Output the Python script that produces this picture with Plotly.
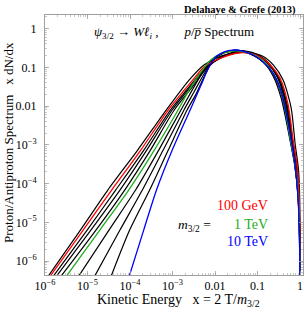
import plotly.graph_objects as go

# ---- data (x = 2T/m, y = x dN/dx) ----
bk1_x = [7.1e-7, 6.8e-6, 3.0e-5, 1.5e-4, 7.1e-4, 2.45e-3, 5.5e-3, 0.0138, 0.055, 0.13, 0.234, 0.40, 0.62, 0.764, 0.923, 0.984, 0.997]
bk1_y = [1.8e-7, 6.3e-6, 6.8e-5, 7.2e-4, 7.9e-3, 0.047, 0.115, 0.195, 0.247, 0.195, 0.115, 0.047, 8.9e-3, 1.1e-3, 2.2e-4, 3.7e-5, 1e-7]

red_x = [7.8e-7, 7.9e-6, 3.7e-5, 1.78e-4, 7.9e-4, 2.75e-3, 5.5e-3, 0.0138, 0.034, 0.058, 0.117, 0.20, 0.34, 0.525, 0.687, 0.85, 0.948, 0.99, 0.998]
red_y = [1.8e-7, 6.3e-6, 6.8e-5, 7.2e-4, 7.9e-3, 0.042, 0.102, 0.174, 0.234, 0.234, 0.184, 0.115, 0.052, 0.0107, 1.32e-3, 3.0e-4, 5.0e-5, 6.3e-6, 1e-7]

bk2_x = [9.1e-7, 9.8e-6, 4.6e-5, 2.1e-4, 8.9e-4, 2.9e-3, 5.8e-3, 0.0138, 0.032, 0.055, 0.111, 0.19, 0.32, 0.50, 0.67, 0.83, 0.94, 0.985, 0.997]
bk2_y = [1.8e-7, 6.3e-6, 6.8e-5, 7.2e-4, 7.9e-3, 0.039, 0.096, 0.174, 0.234, 0.247, 0.195, 0.121, 0.052, 0.0107, 1.32e-3, 3.0e-4, 5e-5, 6.3e-6, 1e-7]

bk3_x = [1.07e-6, 1.2e-5, 5.8e-5, 2.45e-4, 9.8e-4, 3.0e-3, 6.1e-3, 0.0138, 0.030, 0.052, 0.105, 0.18, 0.31, 0.48, 0.65, 0.81, 0.93, 0.98, 0.997]
bk3_y = [1.8e-7, 6.3e-6, 6.8e-5, 7.2e-4, 7.9e-3, 0.037, 0.096, 0.184, 0.247, 0.263, 0.208, 0.129, 0.052, 0.0107, 1.32e-3, 3.0e-4, 5e-5, 6.3e-6, 1e-7]

bk4_x = [1.35e-6, 1.58e-5, 7.5e-5, 3.0e-4, 1.1e-3, 3.2e-3, 6.1e-3, 0.0129, 0.0275, 0.047, 0.094, 0.16, 0.29, 0.47, 0.63, 0.80, 0.92, 0.98, 0.997]
bk4_y = [1.8e-7, 6.3e-6, 6.8e-5, 7.2e-4, 7.9e-3, 0.035, 0.090, 0.174, 0.247, 0.263, 0.208, 0.136, 0.056, 0.0107, 1.32e-3, 3.0e-4, 5e-5, 6.3e-6, 1e-7]

green_x = [1.86e-6, 1.95e-5, 9.3e-5, 3.7e-4, 1.35e-3, 2.45e-3, 4.7e-3, 7.9e-3, 0.0151, 0.026, 0.0445, 0.085, 0.145, 0.246, 0.38, 0.585, 0.764, 0.91, 0.973, 0.997]
green_y = [1.8e-7, 6.3e-6, 6.8e-5, 7.2e-4, 7.9e-3, 0.0257, 0.076, 0.155, 0.234, 0.263, 0.255, 0.208, 0.136, 0.063, 0.019, 1.49e-3, 3.0e-4, 5e-5, 4.6e-6, 1e-7]

bk6_x = [3.8e-6, 3.2e-5, 1.35e-4, 4.7e-4, 1.58e-3, 2.9e-3, 5.2e-3, 8.9e-3, 0.0161, 0.026, 0.0445, 0.085, 0.145, 0.246, 0.38, 0.578, 0.757, 0.90, 0.968, 0.997]
bk6_y = [1.8e-7, 6.3e-6, 6.8e-5, 7.2e-4, 7.9e-3, 0.0257, 0.076, 0.163, 0.234, 0.263, 0.255, 0.20, 0.133, 0.059, 0.017, 1.49e-3, 3.0e-4, 5e-5, 4.6e-6, 1e-7]

bk7_x = [9.8e-6, 5.8e-5, 1.95e-4, 6.0e-4, 1.86e-3, 3.2e-3, 5.5e-3, 9.3e-3, 0.0161, 0.026, 0.0445, 0.082, 0.141, 0.234, 0.36, 0.57, 0.75, 0.898, 0.968, 0.997]
bk7_y = [1.8e-7, 6.3e-6, 6.8e-5, 7.2e-4, 7.9e-3, 0.023, 0.067, 0.163, 0.24, 0.27, 0.263, 0.20, 0.133, 0.059, 0.016, 1.49e-3, 3.0e-4, 5e-5, 4.6e-6, 1e-7]

bk8_x = [2.7e-5, 9.8e-5, 2.9e-4, 7.9e-4, 2.2e-3, 3.55e-3, 5.8e-3, 9.5e-3, 0.0161, 0.026, 0.0445, 0.080, 0.137, 0.227, 0.35, 0.46, 0.62, 0.764, 0.898, 0.973, 0.997]
bk8_y = [1.8e-7, 6.3e-6, 6.8e-5, 7.2e-4, 7.9e-3, 0.020, 0.063, 0.163, 0.24, 0.275, 0.263, 0.205, 0.135, 0.071, 0.0275, 8.9e-3, 1.32e-3, 3.0e-4, 4.4e-5, 4.2e-6, 1e-7]

blue_x = [7.6e-5, 2.1e-4, 4.2e-4, 9.8e-4, 2.6e-3, 4.7e-3, 7.2e-3, 0.011, 0.017, 0.026, 0.0445, 0.080, 0.137, 0.223, 0.34, 0.447, 0.62, 0.764, 0.898, 0.973, 0.997]
blue_y = [1.8e-7, 6.3e-6, 6.8e-5, 7.2e-4, 7.9e-3, 0.0348, 0.102, 0.195, 0.255, 0.279, 0.263, 0.208, 0.136, 0.075, 0.029, 8.9e-3, 1.32e-3, 3.0e-4, 4.4e-5, 4.2e-6, 1e-7]

x_tickvals = [1e-6, 1e-5, 1e-4, 1e-3, 0.01, 0.1, 1]
x_ticktext = ["10<sup>−6</sup>", "10<sup>−5</sup>", "10<sup>−4</sup>", "10<sup>−3</sup>", "0.01", "0.1", "1"]
y_tickvals = [1e-6, 1e-5, 1e-4, 1e-3, 0.01, 0.1, 1]
y_ticktext = ["10<sup>−6</sup>", "10<sup>−5</sup>", "10<sup>−4</sup>", "10<sup>−3</sup>", "0.01", "0.1", "1"]

mass_labels = ["100 GeV", "1 TeV", "10 TeV"]

RED, GREEN, BLUE, BLACK = "#ff0000", "#1fae1f", "#0000ff", "#000000"
SERIF = "Liberation Serif, Times New Roman, serif"

L, R, T, B = 45, 303, 15, 275
W, H = 307, 313

fig = go.Figure()
black_curves = [(bk1_x, bk1_y), (bk2_x, bk2_y), (bk3_x, bk3_y), (bk4_x, bk4_y),
                (bk6_x, bk6_y), (bk7_x, bk7_y), (bk8_x, bk8_y)]
for xs, ys in black_curves:
    fig.add_trace(go.Scatter(x=xs, y=ys, mode="lines",
                             line=dict(color=BLACK, width=1.2, shape="spline", smoothing=0.7),
                             hoverinfo="skip", showlegend=False))
for xs, ys, c in [(red_x, red_y, RED), (green_x, green_y, GREEN), (blue_x, blue_y, BLUE)]:
    fig.add_trace(go.Scatter(x=xs, y=ys, mode="lines",
                             line=dict(color=c, width=1.3, shape="spline", smoothing=0.7),
                             hoverinfo="skip", showlegend=False))

axis_common = dict(type="log", showgrid=False, zeroline=False, showline=True,
                   linecolor="#a0a0a0", linewidth=1, mirror="allticks", automargin=False,
                   ticks="inside", ticklen=4, tickcolor="#a0a0a0", tickwidth=0.8,
                   tickfont=dict(family=SERIF, size=12, color="#000"),
                   minor=dict(ticks="inside", ticklen=2, dtick="D1", tickcolor="#a0a0a0", tickwidth=0.6, showgrid=False))

fig.update_xaxes(range=[-6.0, 0.07], tickvals=x_tickvals, ticktext=x_ticktext, **axis_common)
fig.update_yaxes(range=[-6.36, 0.35], tickvals=y_tickvals, ticktext=y_ticktext,
                 ticklabelstandoff=5, **axis_common)

def px2paper(X, Y):
    return (X - L) / float(R - L), (B - Y) / float(B - T)

ann = []
x0, y0 = px2paper(298, 9.5)
ann.append(dict(x=x0, y=y0, xref="paper", yref="paper", xanchor="right", yanchor="middle",
                text="<b>Delahaye &amp; Grefe (2013)</b>", showarrow=False,
                font=dict(family=SERIF, size=10.5, color="#000")))
x0, y0 = px2paper(92, 33)
ann.append(dict(x=x0, y=y0, xref="paper", yref="paper", xanchor="left", yanchor="middle",
                text="<i>ψ</i><sub>3/2</sub> → <i>Wℓ</i><sub><i>i</i></sub> ,\u00a0\u00a0\u00a0\u00a0\u00a0\u00a0\u00a0\u00a0<i>p</i>/<i>p\u0305</i> Spectrum",
                showarrow=False, font=dict(family=SERIF, size=13, color="#000")))
x0, y0 = px2paper(176, 225)
ann.append(dict(x=x0, y=y0, xref="paper", yref="paper", xanchor="left", yanchor="middle",
                text="<i>m</i><sub>3/2</sub> =", showarrow=False,
                font=dict(family=SERIF, size=13.5, color="#000")))
for lab, Y, c in zip(mass_labels, [205, 224, 241], [RED, GREEN, BLUE]):
    x0, y0 = px2paper(270, Y)
    ann.append(dict(x=x0, y=y0, xref="paper", yref="paper", xanchor="right", yanchor="middle",
                    text=lab, showarrow=False, font=dict(family=SERIF, size=14, color=c)))
x0, y0 = px2paper(178, 300)
ann.append(dict(x=x0, y=y0, xref="paper", yref="paper", xanchor="center", yanchor="middle",
                text="Kinetic Energy\u00a0\u00a0\u00a0x = 2 T/<i>m</i><sub>3/2</sub>", showarrow=False,
                font=dict(family=SERIF, size=14, color="#000")))
x0, y0 = px2paper(8, 143)
ann.append(dict(x=x0, y=y0, xref="paper", yref="paper", xanchor="center", yanchor="middle",
                text="Proton/Antiproton Spectrum\u00a0\u00a0\u00a0x dN/dx", textangle=-90, showarrow=False,
                font=dict(family=SERIF, size=13, color="#000")))

fig.update_layout(width=W, height=H, margin=dict(l=L, r=W - R, t=T, b=H - B, autoexpand=False),
                  paper_bgcolor="white", plot_bgcolor="white", annotations=ann,
                  showlegend=False)

fig.write_html("out.html", config={"displayModeBar": False, "staticPlot": True})

# remove the default page margin so the figure sits at the window's top-left corner
with open("out.html", "r", encoding="utf-8") as f:
    html = f.read()
html = html.replace("<head>", "<head><style>html,body{margin:0;padding:0;overflow:hidden;}</style>", 1)
with open("out.html", "w", encoding="utf-8") as f:
    f.write(html)
